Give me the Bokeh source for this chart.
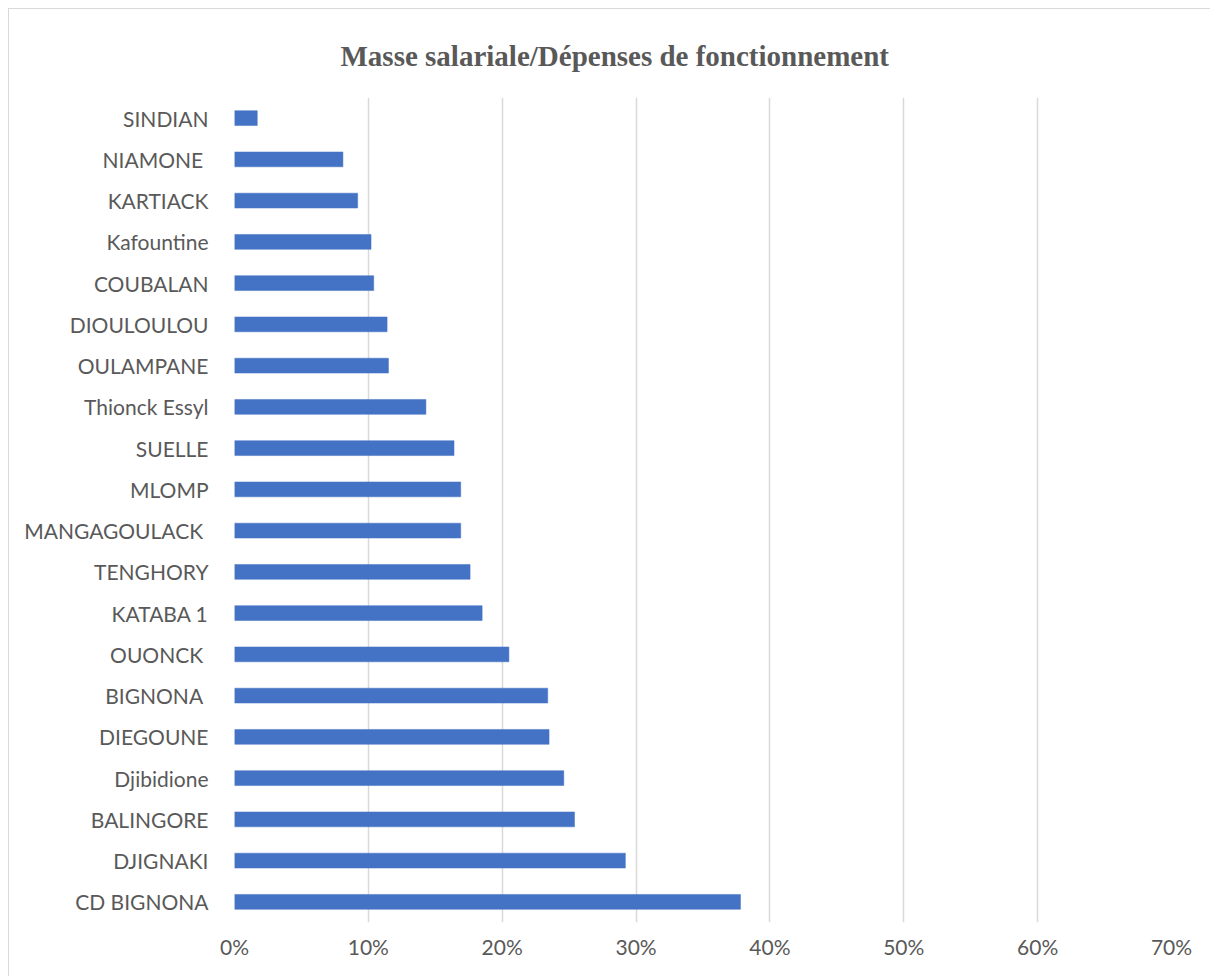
from bokeh.plotting import figure
from bokeh.models import Range1d, FactorRange, FixedTicker, NumeralTickFormatter
from bokeh.embed import file_html
from bokeh.resources import INLINE

categories = ["SINDIAN", "NIAMONE ", "KARTIACK", "Kafountine", "COUBALAN", "DIOULOULOU",
              "OULAMPANE", "Thionck Essyl", "SUELLE", "MLOMP", "MANGAGOULACK ", "TENGHORY",
              "KATABA 1", "OUONCK ", "BIGNONA ", "DIEGOUNE", "Djibidione", "BALINGORE",
              "DJIGNAKI", "CD BIGNONA"]
values = [0.017, 0.081, 0.092, 0.102, 0.104, 0.114, 0.115, 0.143, 0.164, 0.169, 0.169,
          0.176, 0.185, 0.205, 0.234, 0.235, 0.246, 0.254, 0.292, 0.378]
x_ticks = [0.0, 0.1, 0.2, 0.3, 0.4, 0.5, 0.6, 0.7]
title_text = "Masse salariale/Dépenses  de fonctionnement"

p = figure(width=1201, height=967, output_backend="svg", toolbar_location=None,
           x_range=Range1d(0, 0.7), y_range=FactorRange(factors=categories[::-1]),
           min_border_left=225, min_border_right=39, min_border_top=88, min_border_bottom=54)
p.styles = {"margin-left": "9px", "margin-top": "9px", "outline": "1px solid #d9d9d9"}

p.hbar(y=categories, right=values, left=0, height=0.36, fill_color="#4472C4",
       line_color="#4472C4", line_width=0.5)

p.title.text = title_text
p.title.align = "left"
p.title.offset = 106
p.title.text_font = "Liberation Serif"
p.title.text_font_style = "bold"
p.title.text_font_size = "29px"
p.title.text_color = "#595959"
p.title.standoff = 52

p.outline_line_color = None
p.ygrid.grid_line_color = None
p.xgrid.grid_line_color = "#d9d9d9"
p.xgrid.grid_line_width = 1.5
p.xaxis.ticker = FixedTicker(ticks=x_ticks)
p.xaxis.formatter = NumeralTickFormatter(format="0%")

for ax in (p.xaxis[0], p.yaxis[0]):
    ax.axis_line_color = None
    ax.major_tick_line_color = None
    ax.minor_tick_line_color = None
    ax.major_label_text_font = "Lato"
    ax.major_label_text_font_size = "21px"
    ax.major_label_text_color = "#595959"

p.xaxis.major_label_standoff = 5
p.yaxis.major_label_standoff = 20

open("out.html", "w").write(file_html(p, INLINE))
